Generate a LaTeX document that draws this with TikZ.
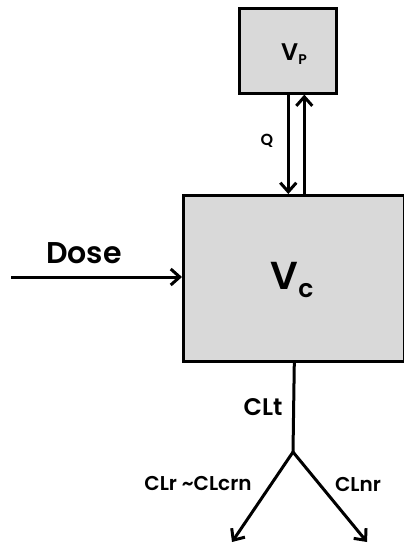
\documentclass[tikz,border=0pt]{standalone}
\usepackage{fontspec}
\setmainfont{Poppins}[BoldFont={Poppins SemiBold}]
\usetikzlibrary{arrows.meta}
\definecolor{boxgray}{HTML}{D9D9D9}
\begin{document}
\begin{tikzpicture}[x=1pt,y=-1pt,
  box/.style={draw, line width=2.6pt, fill=boxgray, inner sep=0pt, anchor=north west},
  conn/.style={line width=3pt, -{Straight Barb[length=9pt,width=16pt,line width=3pt]}},
  lbl/.style={inner sep=0pt, font=\bfseries}]
\useasboundingbox (0,0) rectangle (404,546);
\node[box, minimum width=97pt, minimum height=85pt] (vp) at (238,7) {};
\node[box, minimum width=221pt, minimum height=166pt] (vc) at (182,194) {};
\node[lbl] (vptxt) at (294,54) {\fontsize{24}{24}\selectfont V\raisebox{-0.3ex}{\fontsize{14}{14}\selectfont P}};
\node[lbl] (vctxt) at (292,280) {\fontsize{39}{39}\selectfont V\raisebox{-0.35ex}{\fontsize{25}{25}\selectfont c}};
\node[lbl] (q) at (267,141) {\fontsize{16}{16}\selectfont Q};
\node[lbl] (dose) at (84,253) {\fontsize{30}{30}\selectfont Dose};
\node[lbl] (clt) at (263,407) {\fontsize{24}{24}\selectfont CLt};
\node[lbl] (clr) at (198,484) {\fontsize{20}{20}\selectfont CLr \textasciitilde CLcrn};
\node[lbl] (clnr) at (358,484) {\fontsize{20}{20}\selectfont CLnr};
% connectors
\draw[conn] ([xshift=0.5pt]vp.south) -- ([xshift=0.5pt]vp.south |- vc.north);
\draw[conn] ([xshift=16.5pt]vp.south |- vc.north) -- ([xshift=16.5pt]vp.south);
\coordinate (dosestart) at (11,277);
\draw[conn] (dosestart) -- (vc.west |- dosestart);
\coordinate (split) at (293,452);
\coordinate (endl) at (232,542);
\coordinate (endr) at (367,542);
\draw[line width=3pt] ([xshift=0.5pt]vc.south) -- (split);
\draw[conn] (split) -- (endl);
\draw[conn] (split) -- (endr);
\end{tikzpicture}
\end{document}
